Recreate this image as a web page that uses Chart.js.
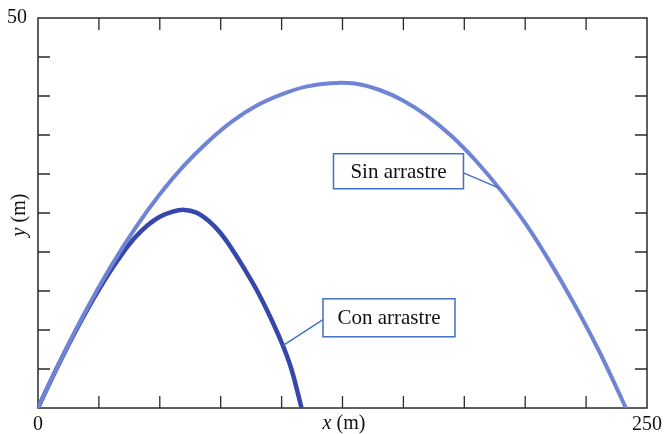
<!DOCTYPE html>
<html>
<head>
<meta charset="utf-8">
<script src="https://cdn.jsdelivr.net/npm/chart.js@4/dist/chart.umd.min.js"></script>
<style>
  html, body { margin: 0; padding: 0; background: #ffffff; }
  #wrap { width: 666px; height: 434px; }
</style>
</head>
<body>
<div id="wrap"><canvas id="c" width="666" height="434"></canvas></div>
<script>
// Trajectory without air drag (m)
const sinX = [0, 10, 20, 30, 40, 50, 60, 70, 80, 90, 100, 110, 120, 130, 140, 150, 160, 170, 180, 190, 200, 210, 220, 230, 240, 241.3];
const sinY = [0, 6.6, 12.7, 18.2, 23.1, 27.4, 31.1, 34.2, 36.8, 38.8, 40.2, 41.2, 41.65, 41.6, 40.8, 39.4, 37.4, 34.8, 31.6, 27.9, 23.7, 18.8, 13.4, 7.5, 0.9, 0];

// Trajectory with air drag (m)
const conX = [0, 5, 10, 15, 20, 25, 30, 35, 40, 45, 50, 55, 60, 65, 70, 75, 80, 85, 90, 95, 100, 104, 108.2];
const conY = [0, 3.34, 6.53, 9.58, 12.48, 15.18, 17.69, 19.95, 21.91, 23.43, 24.52, 25.15, 25.4, 25.05, 24.0, 22.4, 20.2, 17.7, 15.0, 11.9, 8.4, 5.0, 0];

// Axis ranges and the tick values that carry a label
const xRange = [0, 250];
const yRange = [0, 50];
const xStep = 25;
const yStep = 5;
const xLabeledTicks = [0, 250];
const yLabeledTicks = [50];

// Callout texts and the curve points they point to
const noteTexts = ['Sin arrastre', 'Con arrastre'];
const notePointX = [189.3, 100.5];
const notePointY = [28.2, 8.0];

const SERIF = "'Liberation Serif', 'Times New Roman', serif";

const toPoints = (xs, ys) => xs.map((x, i) => ({ x: x, y: ys[i] }));

// Callout box placement (upper-left corner in data units, size in px)
const noteLayout = [
  { boxX: 121.3, boxY: 32.6, w: 130, h: 35, side: 'right' },
  { boxX: 117.0, boxY: 14.0, w: 132, h: 38, side: 'left' }
];

const framePlugin = {
  id: 'frameTicks',
  beforeDatasetsDraw(chart) {
    const { ctx, chartArea: a, scales } = chart;
    ctx.save();
    ctx.strokeStyle = '#2a2a2a';
    ctx.lineWidth = 1.5;
    ctx.strokeRect(a.left, a.top, a.right - a.left, a.bottom - a.top);
    const len = 12;
    ctx.lineWidth = 1.3;
    ctx.beginPath();
    scales.x.ticks.forEach(t => {
      const px = scales.x.getPixelForValue(t.value);
      if (px <= a.left + 1 || px >= a.right - 1) return;
      ctx.moveTo(px, a.bottom); ctx.lineTo(px, a.bottom - len);
      ctx.moveTo(px, a.top); ctx.lineTo(px, a.top + len);
    });
    scales.y.ticks.forEach(t => {
      const py = scales.y.getPixelForValue(t.value);
      if (py <= a.top + 1 || py >= a.bottom - 1) return;
      ctx.moveTo(a.left, py); ctx.lineTo(a.left + len, py);
      ctx.moveTo(a.right, py); ctx.lineTo(a.right - len, py);
    });
    ctx.stroke();
    ctx.restore();
  },
  afterDatasetsDraw(chart) {
    const { ctx, chartArea: a, scales } = chart;
    ctx.save();
    // Callout boxes with leader lines
    noteTexts.forEach((txt, i) => {
      const L = noteLayout[i];
      const bx = scales.x.getPixelForValue(L.boxX);
      const by = scales.y.getPixelForValue(L.boxY);
      const tx = scales.x.getPixelForValue(notePointX[i]);
      const ty = scales.y.getPixelForValue(notePointY[i]);
      const sx = L.side === 'right' ? bx + L.w : bx;
      const sy = by + L.h * 0.55;
      ctx.strokeStyle = '#3f6fc6';
      ctx.lineWidth = 1.4;
      ctx.beginPath();
      ctx.moveTo(sx, sy);
      ctx.lineTo(tx, ty);
      ctx.stroke();
      ctx.fillStyle = '#ffffff';
      ctx.fillRect(bx, by, L.w, L.h);
      ctx.lineWidth = 1.5;
      ctx.strokeRect(bx, by, L.w, L.h);
      ctx.fillStyle = '#111111';
      ctx.font = '21px ' + SERIF;
      ctx.textAlign = 'center';
      ctx.textBaseline = 'middle';
      ctx.fillText(txt, bx + L.w / 2, by + L.h / 2 + 1);
    });

    // Axis titles: italic variable name followed by the unit
    const drawTitle = (v, unit, cx, cy) => {
      ctx.font = 'italic 20px ' + SERIF;
      const wv = ctx.measureText(v).width;
      ctx.font = '20px ' + SERIF;
      const wu = ctx.measureText(unit).width;
      const x0 = cx - (wv + wu) / 2;
      ctx.textAlign = 'left';
      ctx.textBaseline = 'middle';
      ctx.fillStyle = '#111111';
      ctx.font = 'italic 20px ' + SERIF;
      ctx.fillText(v, x0, cy);
      ctx.font = '20px ' + SERIF;
      ctx.fillText(unit, x0 + wv, cy);
    };
    drawTitle('x', ' (m)', 344, 424);
    ctx.translate(20, (a.top + a.bottom) / 2 + 2);
    ctx.rotate(-Math.PI / 2);
    drawTitle('y', ' (m)', 0, 0);
    ctx.restore();
  }
};

new Chart(document.getElementById('c'), {
  type: 'scatter',
  data: {
    datasets: [
      {
        label: 'Sin arrastre',
        data: toPoints(sinX, sinY),
        showLine: true,
        borderColor: '#7084d6',
        borderWidth: 4,
        pointRadius: 0,
        tension: 0.4
      },
      {
        label: 'Con arrastre',
        data: toPoints(conX, conY),
        showLine: true,
        borderColor: '#3647ab',
        borderWidth: 4.5,
        pointRadius: 0,
        tension: 0.4
      }
    ]
  },
  options: {
    responsive: false,
    animation: false,
    devicePixelRatio: 1,
    layout: { padding: { top: 18, right: 19, left: 0, bottom: 0 } },
    plugins: { legend: { display: false }, tooltip: { enabled: false } },
    scales: {
      x: {
        type: 'linear',
        min: xRange[0],
        max: xRange[1],
        grid: { display: false },
        border: { display: false },
        ticks: {
          stepSize: xStep,
          autoSkip: false,
          maxRotation: 0,
          padding: -3,
          color: '#111111',
          font: { family: SERIF, size: 20 },
          callback: v => (xLabeledTicks.includes(v) ? String(v) : '')
        },
        afterFit(s) { s.height = 26; }
      },
      y: {
        type: 'linear',
        min: yRange[0],
        max: yRange[1],
        grid: { display: false },
        border: { display: false },
        ticks: {
          stepSize: yStep,
          autoSkip: false,
          padding: 3,
          color: '#111111',
          font: { family: SERIF, size: 20 },
          callback: v => (yLabeledTicks.includes(v) ? String(v) : '')
        },
        afterFit(s) { s.width = 38; }
      }
    }
  },
  plugins: [framePlugin]
});
</script>
</body>
</html>
